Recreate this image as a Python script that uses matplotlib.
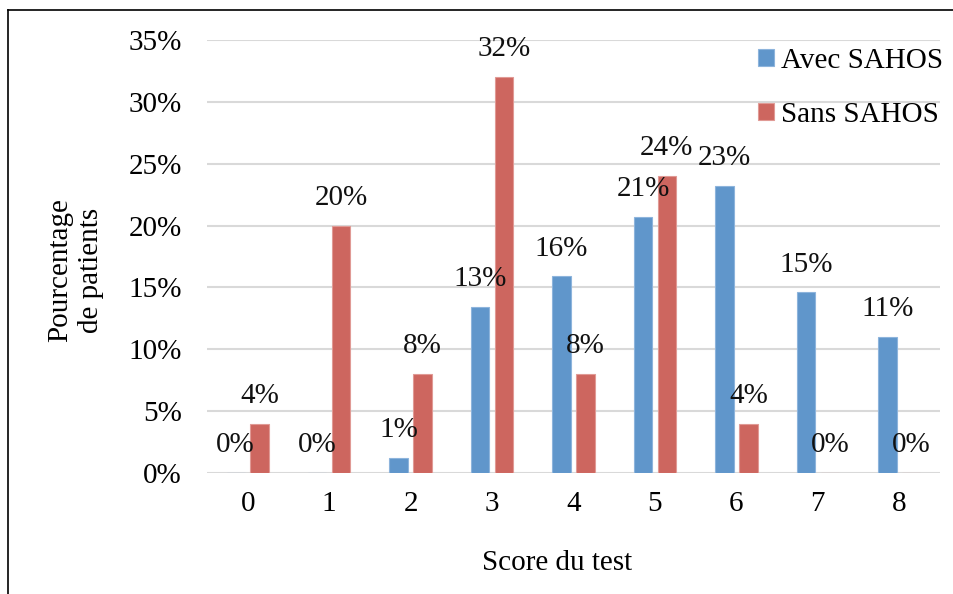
import matplotlib
matplotlib.use("Agg")
import matplotlib.pyplot as plt
from matplotlib.lines import Line2D
import numpy as np

scores = ["0", "1", "2", "3", "4", "5", "6", "7", "8"]
avec_sahos = [0.0, 0.0, 1.2, 13.4, 15.9, 20.7, 23.2, 14.6, 11.0]
sans_sahos = [4.0, 20.0, 8.0, 32.0, 8.0, 24.0, 4.0, 0.0, 0.0]
series_names = ["Avec SAHOS", "Sans SAHOS"]
yticks = [0, 5, 10, 15, 20, 25, 30, 35]

plt.rcParams['font.family'] = ['Liberation Serif', 'DejaVu Serif']
FS = 21

W, H = 954, 594
fig = plt.figure(figsize=(W/100, H/100), dpi=100)
ax = fig.add_axes([207/W, 1-473/H, (940-207)/W, (473-40)/H])

x = np.arange(len(scores))
bw = 0.227
off = 0.147
blue = "#6096CB"
red = "#CD665F"
ax.bar(x - off, avec_sahos, bw, color=blue, edgecolor="#8DB4DC", linewidth=0.8, label=series_names[0], zorder=3)
ax.bar(x + off, sans_sahos, bw, color=red, edgecolor="#E09A95", linewidth=0.8, label=series_names[1], zorder=3)

for xs, vals in ((x - off, avec_sahos), (x + off, sans_sahos)):
    for xi, v in zip(xs, vals):
        ax.annotate(f"{v:.0f}%", (xi, v), xytext=(0, 20), textcoords="offset points",
                    ha="center", va="center", fontsize=FS, color="#111111", zorder=4)

ax.set_xlim(-0.5, len(scores) - 0.5)
ax.set_ylim(0, 35)
ax.set_yticks(yticks)
ax.set_yticklabels([f"{t}%" for t in yticks], fontsize=FS)
ax.set_xticks(x)
ax.set_xticklabels(scores, fontsize=FS)
ax.tick_params(axis="y", length=0, pad=18)
ax.tick_params(axis="x", length=0, pad=13)
ax.grid(axis="y", color="#D9D9D9", linewidth=1.5, zorder=0)
ax.set_axisbelow(True)
for s in ax.spines.values():
    s.set_visible(False)

ax.legend(loc="upper left", bbox_to_anchor=(758/W, 1-48/H), bbox_transform=fig.transFigure,
          frameon=False, fontsize=FS, handlelength=0.55, handleheight=0.55,
          handletextpad=0.25, labelspacing=0.95, borderaxespad=0, borderpad=0)

fig.text(76/W, 1-270/H, "Pourcentage\nde patients", rotation=90, ha="center", va="center",
         fontsize=FS, multialignment="center", linespacing=1.25)
fig.text(557/W, 1-563/H, "Score du test", ha="center", va="center", fontsize=FS)

fig.add_artist(Line2D([8/W, 8/W], [0, 1-10/H], color="black", linewidth=1.2))
fig.add_artist(Line2D([8/W, 1], [1-10/H, 1-10/H], color="black", linewidth=1.2))

fig.savefig("out.png", dpi=100)
